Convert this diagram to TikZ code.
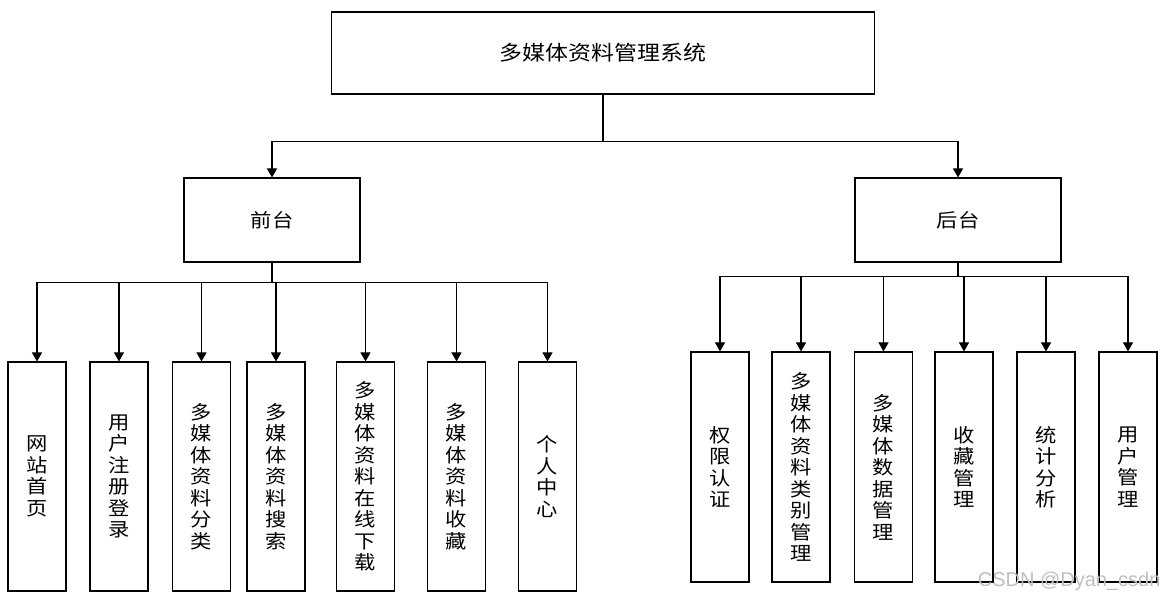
\documentclass[tikz,border=0pt]{standalone}
\usepackage{fontspec}
\newfontfamily\cjk{Noto Sans CJK SC}[FakeStretch=1.12]
\newfontfamily\markfont{Liberation Sans}
\usetikzlibrary{arrows.meta}

\begin{document}
\begin{tikzpicture}[x=1pt, y=-1pt, line width=1.1pt,
    box/.style={draw, inner sep=0pt, font=\cjk\fontsize{19}{21.5}\selectfont, align=center},
    leaf/.style={box, minimum width=58pt, minimum height=229pt},
    arrow/.style={-{Triangle[width=10pt, length=9pt]}}]
    \useasboundingbox (0, 0) rectangle (1163, 601);
    \node [box, minimum width=543pt, minimum height=82pt, font=\cjk\fontsize{20.5}{24}\selectfont] (sys) at (603, 53) {多媒体资料管理系统};
    \node [box, minimum width=176pt, minimum height=84pt] (front) at (272, 220) {前台};
    \node [box, minimum width=206pt, minimum height=84pt] (back) at (958, 220) {后台};
    \foreach \n in {front, back} {
        \draw [arrow] (sys.south) -- ++(0, 47) -| (\n.north);
    }
    \foreach \n/\x/\t in {
        f1/37/{网\\站\\首\\页},
        f2/119/{用\\户\\注\\册\\登\\录},
        f3/201.5/{多\\媒\\体\\资\\料\\分\\类},
        f4/276/{多\\媒\\体\\资\\料\\搜\\索},
        f5/365.5/{多\\媒\\体\\资\\料\\在\\线\\下\\载},
        f6/456.5/{多\\媒\\体\\资\\料\\收\\藏},
        f7/547.5/{个\\人\\中\\心}} {
        \node [leaf] (\n) at (\x, 476.5) {\t};
        \draw [arrow] (front.south) -- ++(0, 20) -| (\n.north);
    }
    \foreach \n/\x/\t in {
        b1/720/{权\\限\\认\\证},
        b2/801/{多\\媒\\体\\资\\料\\类\\别\\管\\理},
        b3/883.5/{多\\媒\\体\\数\\据\\管\\理},
        b4/964/{收\\藏\\管\\理},
        b5/1046/{统\\计\\分\\析},
        b6/1128/{用\\户\\管\\理}} {
        \node [leaf, minimum height=230pt] (\n) at (\x, 467) {\t};
        \draw [arrow] (back.south) -- ++(0, 14) -| (\n.north);
    }
    \node [text=gray!50, font=\markfont\fontsize{20}{20}\selectfont, anchor=east, inner sep=0pt] (mark) at (1161, 581) {CSDN @Dyan\_csdn};
\end{tikzpicture}
\end{document}
